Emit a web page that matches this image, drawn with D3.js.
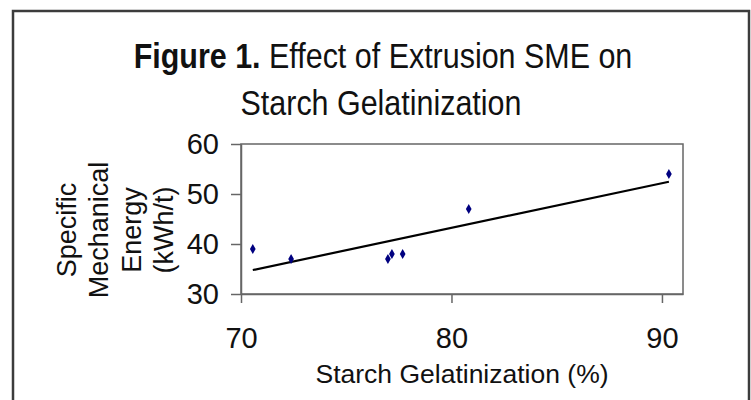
<!DOCTYPE html>
<html><head><meta charset="utf-8">
<script src="https://cdn.jsdelivr.net/npm/d3@7"></script>
<style>
html,body{margin:0;padding:0;background:#fff;}
text{font-family:"Liberation Sans", Arial, sans-serif;fill:#111;}
</style></head>
<body>
<svg id="c" width="751" height="400"></svg>
<script>
// Data
const gelatinization = [70.56, 72.38, 76.98, 77.17, 77.68, 80.82, 90.33];
const sme = [39, 37, 37, 38, 38, 47, 54];
const xTicks = [70, 80, 90];
const yTicks = [30, 40, 50, 60];
const titleBold = "Figure 1.";
const titleLine1 = " Effect of Extrusion SME on";
const titleLine2 = "Starch Gelatinization";
const xTitle = "Starch Gelatinization (%)";
const yTitleLines = ["Specific", "Mechanical", "Energy", "(kWh/t)"];

const svg = d3.select("#c");
svg.append("rect").attr("width",751).attr("height",400).attr("fill","#fff");
// outer frame
svg.append("rect").attr("x",13).attr("y",11).attr("width",736).attr("height",420)
  .attr("fill","none").attr("stroke","#3c3c3c").attr("stroke-width",2.5);

const x = d3.scaleLinear().domain([70,91]).range([241,683]);
const y = d3.scaleLinear().domain([30,60]).range([294,144]);

// plot frame
svg.append("rect").attr("x",x(70)).attr("y",y(60)).attr("width",x(91)-x(70)).attr("height",y(30)-y(60))
  .attr("fill","none").attr("stroke","#666").attr("stroke-width",1.5);

const ya = svg.append("g").attr("transform",`translate(${x(70)},0)`)
  .call(d3.axisLeft(y).tickValues(yTicks).tickSize(10).tickPadding(12).tickSizeOuter(0));
const xa = svg.append("g").attr("transform",`translate(0,${y(30)})`)
  .call(d3.axisBottom(x).tickValues(xTicks).tickSize(9).tickPadding(24).tickSizeOuter(0));
[ya,xa].forEach(a=>{
  a.select(".domain").attr("stroke","#666").attr("stroke-width",1.5);
  a.selectAll(".tick line").attr("stroke","#666").attr("stroke-width",1.5);
  a.selectAll(".tick text").attr("font-size",29).attr("font-family","Liberation Sans, Arial, sans-serif").attr("fill","#111");
});

// trendline (least squares from data)
const n = gelatinization.length;
const mx = d3.mean(gelatinization), my = d3.mean(sme);
let sxy=0, sxx=0;
for(let i=0;i<n;i++){sxy+=(gelatinization[i]-mx)*(sme[i]-my);sxx+=(gelatinization[i]-mx)**2;}
const slope = sxy/sxx, icpt = my - slope*mx;
const [x0,x1] = d3.extent(gelatinization);
svg.append("line").attr("x1",x(x0)).attr("y1",y(icpt+slope*x0)).attr("x2",x(x1)).attr("y2",y(icpt+slope*x1))
  .attr("stroke","#000").attr("stroke-width",2.2);

// markers
const sym = d3.symbol().type(d3.symbolDiamond).size(28);
svg.append("g").selectAll("path").data(gelatinization).join("path")
  .attr("d",sym).attr("transform",(d,i)=>`translate(${x(d)},${y(sme[i])})`)
  .attr("fill","#000080");

// title
const tg1 = svg.append("g").attr("transform","translate(383,68) scale(0.87,1)");
const t1 = tg1.append("text").attr("text-anchor","middle").attr("font-size",35);
t1.append("tspan").attr("font-weight","bold").text(titleBold);
t1.append("tspan").text(titleLine1);
svg.append("g").attr("transform","translate(381,115) scale(0.87,1)")
  .append("text").attr("text-anchor","middle").attr("font-size",35).text(titleLine2);

// x title
svg.append("text").attr("x",462).attr("y",383).attr("text-anchor","middle").attr("font-size",26.5).text(xTitle);

// y title
const yt = svg.append("g").attr("transform","translate(0,230) rotate(-90)");
const yBase = [76,108,141,173];
yTitleLines.forEach((s,i)=>{
  yt.append("text").attr("x",0).attr("y",yBase[i]).attr("text-anchor","middle").attr("font-size",27).text(s);
});
</script>
</body></html>
